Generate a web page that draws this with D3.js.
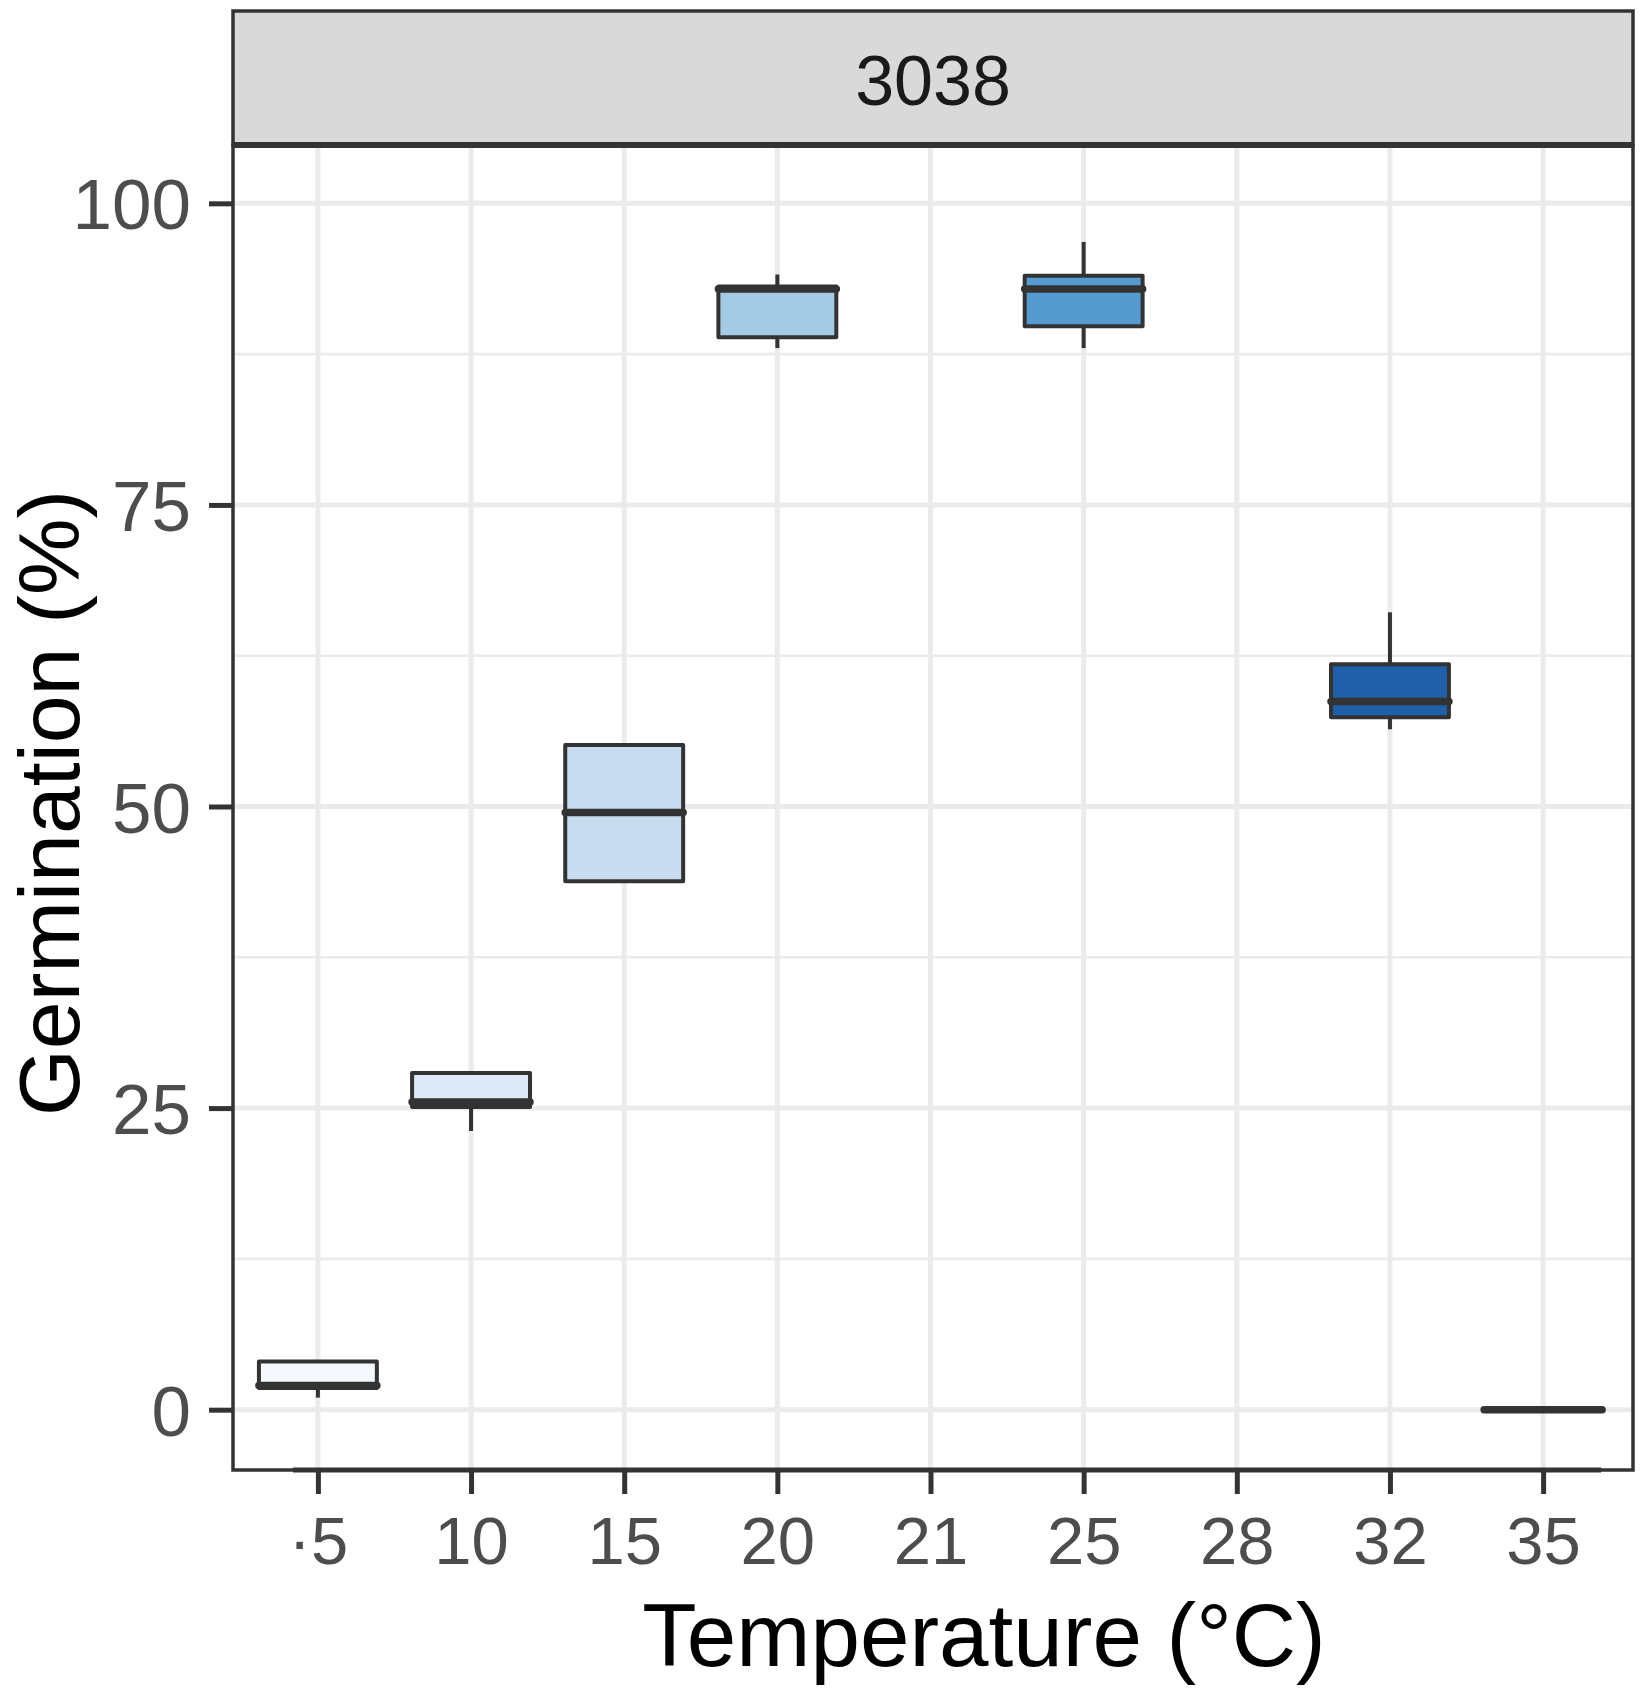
<!DOCTYPE html>
<html>
<head>
<meta charset="utf-8">
<script src="https://cdnjs.cloudflare.com/ajax/libs/d3/7.8.5/d3.min.js"></script>
<style>
  html, body { margin: 0; padding: 0; background: #fff; }
  svg text { font-family: "Liberation Sans", Arial, sans-serif; }
</style>
</head>
<body>
<div class="boxChart"></div>
<script>
"use strict";
// chart data
var categories = ["5", "10", "15", "20", "21", "25", "28", "32", "35"];
var tickLabels = ["\u00b75", "10", "15", "20", "21", "25", "28", "32", "35"];
// [lower whisker, q1, median, q3, upper whisker]; null = no data
var boxStats = [
  [1.0, 1.8, 2.0, 4.0, 4.0],
  [23.1, 25.1, 25.5, 27.9, 27.9],
  [43.8, 43.8, 49.5, 55.1, 55.1],
  [88.0, 88.9, 92.9, 93.1, 94.1],
  null,
  [88.0, 89.8, 92.9, 94.0, 96.8],
  null,
  [56.4, 57.4, 58.7, 61.8, 66.1],
  [0, 0, 0, 0, 0]
];
var fillColors = ["#f5f8fd", "#dde9f6", "#c7dcef", "#a3cbe3", "#6baed6", "#569bd0", "#2171b5", "#1f60a8", "#08306b"];
var yTicks = [0, 25, 50, 75, 100];
var yMinor = [12.5, 37.5, 62.5, 87.5];
var stripLabel = "3038";

var width = 1645, height = 1701;
var panel = {left: 233, right: 1633, top: 145, bottom: 1470};

var svg = d3.select(".boxChart").append("svg")
    .attr("width", width)
    .attr("height", height);

//scales
var x = d3.scalePoint()
    .domain(categories)
    .range([226, 1635])
    .padding(0.6);
var y = d3.scaleLinear()
    .domain([-5, 105])
    .range([1470, 143]);

var boxWidth = x.step() * 0.77;

//grid
var grid = svg.append("g").attr("class", "grid");
grid.selectAll(".minor")
    .data(yMinor)
    .enter().append("line")
    .attr("x1", panel.left).attr("x2", panel.right)
    .attr("y1", function(d){ return y(d); })
    .attr("y2", function(d){ return y(d); })
    .style("stroke", "#ebebeb")
    .style("stroke-width", 2.6);
grid.selectAll(".majorY")
    .data(yTicks)
    .enter().append("line")
    .attr("x1", panel.left).attr("x2", panel.right)
    .attr("y1", function(d){ return y(d); })
    .attr("y2", function(d){ return y(d); })
    .style("stroke", "#ebebeb")
    .style("stroke-width", 5);
grid.selectAll(".majorX")
    .data(categories)
    .enter().append("line")
    .attr("x1", function(d){ return x(d); })
    .attr("x2", function(d){ return x(d); })
    .attr("y1", panel.top).attr("y2", panel.bottom)
    .style("stroke", "#ebebeb")
    .style("stroke-width", 5);

//boxes
var boxData = categories.map(function(c, i){
  return {cat: c, s: boxStats[i], fill: fillColors[i]};
}).filter(function(d){ return d.s !== null; });

var boxes = svg.selectAll(".box")
    .data(boxData)
    .enter().append("g")
    .attr("class", "box");

boxes.append("line")
    .attr("x1", function(d){ return x(d.cat); })
    .attr("x2", function(d){ return x(d.cat); })
    .attr("y1", function(d){ return y(d.s[0]); })
    .attr("y2", function(d){ return y(d.s[1]); })
    .style("stroke", "#333333")
    .style("stroke-width", 4);
boxes.append("line")
    .attr("x1", function(d){ return x(d.cat); })
    .attr("x2", function(d){ return x(d.cat); })
    .attr("y1", function(d){ return y(d.s[3]); })
    .attr("y2", function(d){ return y(d.s[4]); })
    .style("stroke", "#333333")
    .style("stroke-width", 4);
boxes.append("rect")
    .attr("x", function(d){ return x(d.cat) - boxWidth / 2; })
    .attr("y", function(d){ return y(d.s[3]); })
    .attr("width", boxWidth)
    .attr("height", function(d){ return y(d.s[1]) - y(d.s[3]); })
    .style("fill", function(d){ return d.fill; })
    .style("stroke", "#333333")
    .style("stroke-width", 4)
    .style("stroke-linejoin", "round");
boxes.append("line")
    .attr("x1", function(d){ return x(d.cat) - boxWidth / 2; })
    .attr("x2", function(d){ return x(d.cat) + boxWidth / 2; })
    .attr("y1", function(d){ return y(d.s[2]); })
    .attr("y2", function(d){ return y(d.s[2]); })
    .style("stroke", "#333333")
    .style("stroke-width", 7.5)
    .style("stroke-linecap", "round");

//panel border
svg.append("rect")
    .attr("x", panel.left).attr("y", panel.top)
    .attr("width", panel.right - panel.left)
    .attr("height", panel.bottom - panel.top)
    .style("fill", "none")
    .style("stroke", "#333333")
    .style("stroke-width", 3.5);

//axes
var xAxis = d3.axisBottom(x)
    .tickSizeInner(24)
    .tickSizeOuter(0)
    .tickPadding(22)
    .tickFormat(function(d, i){ return tickLabels[i]; });
var gx = svg.append("g")
    .attr("class", "x axis")
    .attr("transform", "translate(0," + panel.bottom + ")")
    .call(xAxis);
gx.select(".domain")
    .attr("d", "M" + (x(categories[0]) - 25) + ",0H" + (x(categories[8]) + 58))
    .style("stroke", "#333333")
    .style("stroke-width", 5);
gx.selectAll(".tick line").style("stroke", "#333333").style("stroke-width", 5);
gx.selectAll(".tick text")
    .style("font-size", "67px")
    .style("fill", "#4d4d4d")
    .attr("dy", "0.71em");

var yAxis = d3.axisLeft(y)
    .tickValues(yTicks)
    .tickSizeInner(24)
    .tickSizeOuter(0)
    .tickPadding(18);
var gy = svg.append("g")
    .attr("class", "y axis")
    .attr("transform", "translate(" + panel.left + ",0)")
    .call(yAxis);
gy.select(".domain").remove();
gy.selectAll(".tick line").style("stroke", "#333333").style("stroke-width", 5);
gy.selectAll(".tick text")
    .style("font-size", "71px")
    .style("fill", "#4d4d4d")
    .attr("dy", "0.36em");

//strip
svg.append("rect")
    .attr("x", panel.left).attr("y", 11)
    .attr("width", panel.right - panel.left)
    .attr("height", panel.top - 11)
    .style("fill", "#d9d9d9")
    .style("stroke", "#333333")
    .style("stroke-width", 3.5);
svg.append("line")
    .attr("x1", panel.left).attr("x2", panel.right)
    .attr("y1", panel.top).attr("y2", panel.top)
    .style("stroke", "#333333")
    .style("stroke-width", 6);
svg.append("text")
    .text(stripLabel)
    .attr("x", (panel.left + panel.right) / 2)
    .attr("y", 105)
    .attr("text-anchor", "middle")
    .style("font-size", "70px")
    .style("fill", "#1a1a1a");

//axis titles
svg.append("text")
    .text("Temperature (\u00b0C)")
    .attr("x", 984)
    .attr("y", 1666)
    .attr("text-anchor", "middle")
    .style("font-size", "89px")
    .style("fill", "#000");
svg.append("text")
    .text("Germination (%)")
    .attr("text-anchor", "middle")
    .attr("transform", "translate(79,803) rotate(-90)")
    .style("font-size", "86px")
    .style("fill", "#000");
</script>
</body>
</html>
